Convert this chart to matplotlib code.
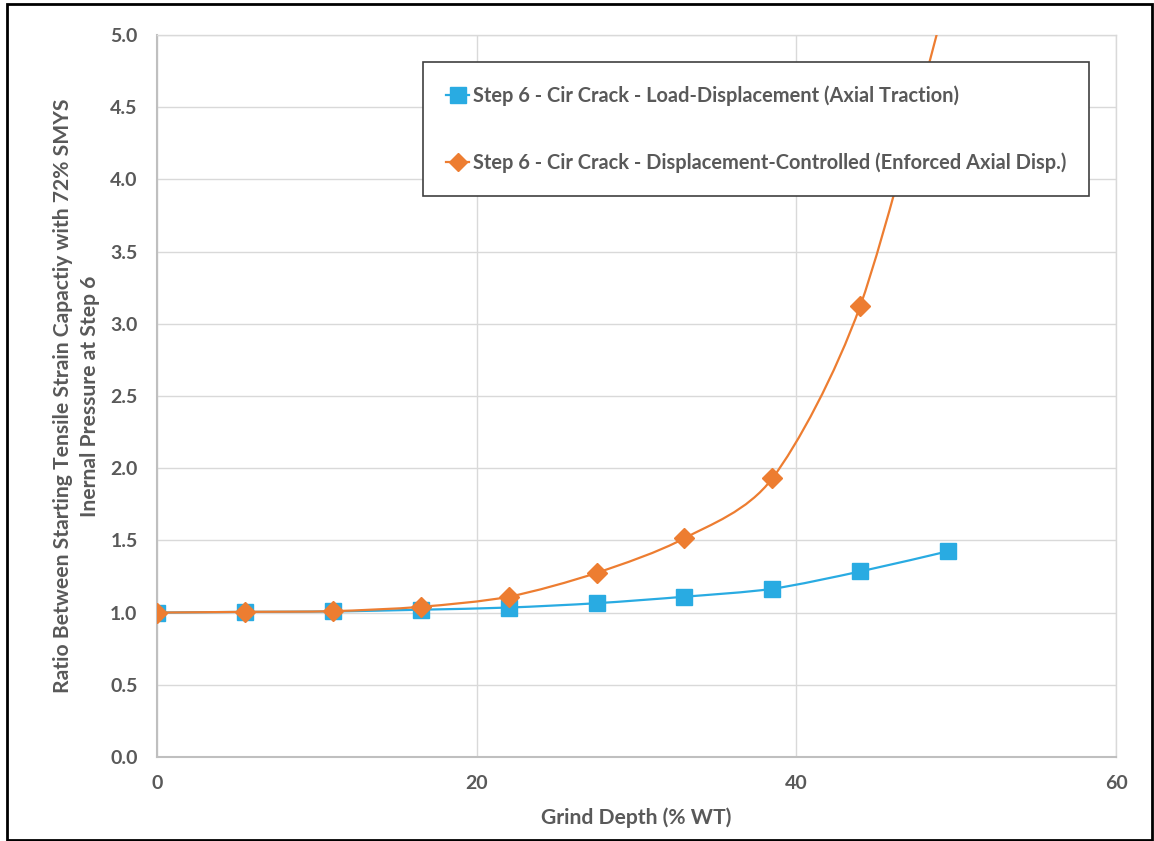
import numpy as np
import matplotlib
matplotlib.use("Agg")
import matplotlib.pyplot as plt
from matplotlib.path import Path
from matplotlib.patches import PathPatch, Rectangle
from matplotlib.lines import Line2D

# Data
grind_depth = [0, 5.5, 11, 16.5, 22, 27.5, 33, 38.5, 44, 49.5]
load_disp = [1.0, 1.005, 1.008, 1.02, 1.035, 1.065, 1.11, 1.165, 1.285, 1.425]
disp_ctrl = [1.0, 1.005, 1.01, 1.04, 1.11, 1.275, 1.515, 1.93, 3.125, 5.3]
x_ticks = [0, 20, 40, 60]
y_ticks = [0.0, 0.5, 1.0, 1.5, 2.0, 2.5, 3.0, 3.5, 4.0, 4.5, 5.0]

label_blue = "Step 6 - Cir Crack - Load-Displacement (Axial Traction)"
label_orange = "Step 6 - Cir Crack - Displacement-Controlled (Enforced Axial Disp.)"

BLUE = "#29ABE2"
ORANGE = "#ED7D31"
TEXT = "#595959"

plt.rcParams.update({"font.family": ["Lato", "DejaVu Sans"], "font.weight": "bold"})


def smooth_path(xs, ys, k=7.0):
    # Catmull-Rom style bezier, like spreadsheet "smoothed line"
    pts = np.column_stack([xs, ys]).astype(float)
    verts = [pts[0]]
    codes = [Path.MOVETO]
    n = len(pts)
    for i in range(n - 1):
        p0 = pts[i - 1] if i > 0 else pts[i]
        p1 = pts[i]
        p2 = pts[i + 1]
        p3 = pts[i + 2] if i + 2 < n else pts[i + 1]
        c1 = p1 + (p2 - p0) / k
        c2 = p2 - (p3 - p1) / k
        verts += [c1, c2, p2]
        codes += [Path.CURVE4] * 3
    return Path(verts, codes)


fig = plt.figure(figsize=(11.54, 8.41), dpi=100)
ax = fig.add_axes([157 / 1154, 1 - 757 / 841, (1116 - 157) / 1154, (757 - 35) / 841])

for xs, ys, c, m, ms in [(grind_depth, load_disp, BLUE, "s", 12),
                         (grind_depth, disp_ctrl, ORANGE, "D", 10.5)]:
    ax.add_patch(PathPatch(smooth_path(xs, ys), facecolor="none", edgecolor=c,
                           lw=1.6, zorder=3))
    ax.plot(xs, ys, linestyle="none", marker=m, markersize=ms, color=c, zorder=4)

ax.set_xlim(0, 60)
ax.set_ylim(0, 5)
ax.set_xticks(x_ticks)
ax.set_yticks(y_ticks)
ax.set_yticklabels([f"{v:.1f}" for v in y_ticks])
ax.tick_params(length=0, labelsize=14, labelcolor=TEXT)
ax.tick_params(axis="x", pad=13)
ax.tick_params(axis="y", pad=14)
ax.grid(True, color="#D9D9D9", lw=1)
ax.set_axisbelow(True)
for s in ["top", "right"]:
    ax.spines[s].set_color("#D9D9D9")
    ax.spines[s].set_linewidth(1)
for s in ["left", "bottom"]:
    ax.spines[s].set_color("#BFBFBF")
    ax.spines[s].set_linewidth(1.5)

ax.set_xlabel("Grind Depth (% WT)", fontsize=15.2, fontweight="bold", color=TEXT,
              labelpad=11)
ax.set_ylabel("Ratio Between Starting Tensile Strain Capactiy with 72% SMYS\nInernal Pressure at Step 6",
              fontsize=15.2, fontweight="bold", color=TEXT, labelpad=7, linespacing=1.45)

handles = [Line2D([], [], color=BLUE, marker="s", markersize=11, lw=1.6),
           Line2D([], [], color=ORANGE, marker="D", markersize=9, lw=1.6)]
leg = ax.legend(handles, [label_blue, label_orange], loc="upper left",
                bbox_to_anchor=((423 - 157) / 959, (757 - 62) / 722),
                fontsize=14.4, labelcolor=TEXT, frameon=True, fancybox=False,
                edgecolor="#404040", framealpha=1, handlelength=1.15,
                handletextpad=0.2, labelspacing=2.35, borderpad=1.15,
                borderaxespad=0)
leg.get_frame().set_linewidth(1.2)
leg.set_zorder(5)

fig.patches.append(Rectangle((0.006, 0.001), 0.992, 0.994, transform=fig.transFigure,
                             fill=False, edgecolor="black", lw=2))

fig.savefig("out.png", dpi=100)
